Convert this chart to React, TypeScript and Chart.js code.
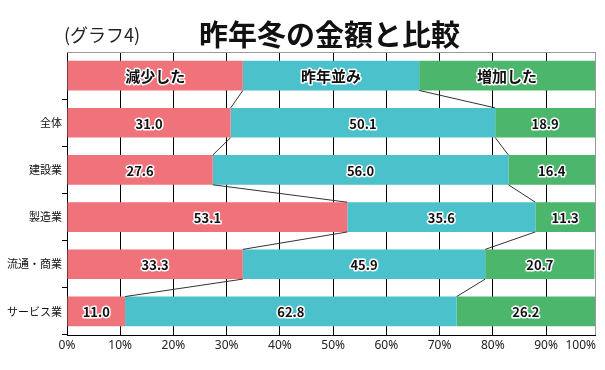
import React, { useEffect, useRef } from 'react';
import { Chart, registerables } from 'chart.js';

Chart.register(...registerables);

// ---- data ----
const CATEGORIES = ['', '全体', '建設業', '製造業', '流通・商業', 'サービス業'];
const SERIES_NAMES = ['減少した', '昨年並み', '増加した'];
const DECREASED = [33.3, 31.0, 27.6, 53.1, 33.3, 11.0];
const SAME = [33.4, 50.1, 56.0, 35.6, 45.9, 62.8];
const INCREASED = [33.3, 18.9, 16.4, 11.3, 20.7, 26.2];
const TICK_LABELS = ['0%', '10%', '20%', '30%', '40%', '50%', '60%', '70%', '80%', '90%', '100%'];
// gridlines in the source picture are spaced slightly wider than the bar scale
const GRID_STEP = 10.08;

const TITLE_PREFIX = '(グラフ4)';
const TITLE_MAIN = '昨年冬の金額と比較';

const COLORS = ['#F0727A', '#4AC1CB', '#4BB66C'];
const FONT = '"Noto Sans CJK JP", "Noto Sans", sans-serif';

const drawPlugin = {
  id: 'customDraw',
  beforeDraw(chart: any) {
    const ctx = chart.ctx;
    ctx.save();
    ctx.fillStyle = '#ffffff';
    ctx.fillRect(0, 0, chart.width, chart.height);
    ctx.restore();
  },
  afterDatasetsDraw(chart: any) {
    const ctx = chart.ctx;
    const xs = chart.scales.x;
    const metas = [0, 1, 2].map((i) => chart.getDatasetMeta(i));
    const data = chart.data.datasets.map((d: any) => d.data as number[]);
    ctx.save();
    // series lines
    ctx.strokeStyle = '#333';
    ctx.lineWidth = 1;
    for (let r = 0; r < CATEGORIES.length - 1; r++) {
      const b0 = metas[0].data[r].getProps(['y', 'height'], true);
      const b1 = metas[0].data[r + 1].getProps(['y', 'height'], true);
      for (let k = 1; k <= 2; k++) {
        let c0 = 0;
        let c1 = 0;
        for (let j = 0; j < k; j++) {
          c0 += data[j][r];
          c1 += data[j][r + 1];
        }
        ctx.beginPath();
        ctx.moveTo(xs.getPixelForValue(c0), b0.y + b0.height / 2);
        ctx.lineTo(xs.getPixelForValue(c1), b1.y - b1.height / 2);
        ctx.stroke();
      }
    }
    // labels
    ctx.textBaseline = 'middle';
    ctx.textAlign = 'center';
    ctx.lineJoin = 'round';
    metas.forEach((meta: any, di: number) => {
      meta.data.forEach((el: any, r: number) => {
        const p = el.getProps(['x', 'y', 'base'], true);
        const cx = (p.x + p.base) / 2;
        let text: string;
        if (r === 0) {
          text = SERIES_NAMES[di];
          ctx.font = `bold 15px ${FONT}`;
        } else {
          text = data[di][r].toFixed(1);
          ctx.font = `bold 13px ${FONT}`;
        }
        ctx.lineWidth = 3;
        ctx.strokeStyle = '#ffffff';
        ctx.strokeText(text, cx, p.y + 1);
        ctx.fillStyle = '#111';
        ctx.fillText(text, cx, p.y + 1);
      });
    });
    ctx.restore();
  },
  afterDraw(chart: any) {
    const ctx = chart.ctx;
    const area = chart.chartArea;
    const xs = chart.scales.x;
    ctx.save();
    // top border
    ctx.strokeStyle = '#999';
    ctx.lineWidth = 1;
    ctx.beginPath();
    ctx.moveTo(area.left, Math.round(area.top) + 0.5);
    ctx.lineTo(area.right, Math.round(area.top) + 0.5);
    ctx.stroke();
    // titles
    ctx.textBaseline = 'middle';
    ctx.textAlign = 'left';
    ctx.fillStyle = '#222';
    ctx.font = `18px ${FONT}`;
    ctx.fillText(TITLE_PREFIX, 64, 35);
    ctx.fillStyle = '#111';
    ctx.font = `bold 29px ${FONT}`;
    ctx.fillText(TITLE_MAIN, 199, 35);
    // x tick labels
    ctx.font = `12px "Noto Sans", sans-serif`;
    ctx.fillStyle = '#222';
    const last = xs.ticks.length - 1;
    xs.ticks.forEach((t: any, i: number) => {
      const px = xs.getPixelForValue(t.value);
      if (i === last) {
        ctx.textAlign = 'right';
        ctx.fillText(TICK_LABELS[i], area.right + 1, area.bottom + 11);
      } else {
        ctx.textAlign = 'center';
        ctx.fillText(TICK_LABELS[i], px, area.bottom + 11);
      }
    });
    ctx.restore();
  },
};

export default function App() {
  const ref = useRef<HTMLCanvasElement>(null);
  useEffect(() => {
    if (!ref.current) return;
    const chart = new Chart(ref.current, {
      type: 'bar',
      data: {
        labels: CATEGORIES,
        datasets: [
          { label: SERIES_NAMES[0], data: DECREASED, backgroundColor: COLORS[0] },
          { label: SERIES_NAMES[1], data: SAME, backgroundColor: COLORS[1] },
          { label: SERIES_NAMES[2], data: INCREASED, backgroundColor: COLORS[2] },
        ],
      },
      options: {
        indexAxis: 'y',
        animation: false,
        responsive: false,
        maintainAspectRatio: false,
        devicePixelRatio: 1,
        layout: { padding: { top: 52, right: 10, bottom: 35, left: 0 } },
        datasets: { bar: { barPercentage: 0.63, categoryPercentage: 1 } },
        plugins: {
          legend: { display: false },
          tooltip: { enabled: false },
          title: { display: false },
        },
        scales: {
          x: {
            stacked: true,
            min: 0,
            max: 100,
            afterBuildTicks(scale: any) {
              scale.ticks = TICK_LABELS.map((_, i) => ({
                value: i === TICK_LABELS.length - 1 ? 100 : i * GRID_STEP,
              }));
            },
            afterFit(scale: any) {
              scale.height = 0;
              scale.paddingLeft = 0;
              scale.paddingRight = 0;
            },
            ticks: { display: false },
            grid: {
              color: (c: any) => (c.index === TICK_LABELS.length - 1 ? '#999' : '#000'),
              lineWidth: 1,
              drawTicks: false,
            },
            border: { color: '#000', width: 1 },
          },
          y: {
            stacked: true,
            afterFit(scale: any) {
              scale.width = 67;
            },
            ticks: {
              font: { family: FONT, size: 11 },
              color: '#111',
              padding: 0,
            },
            grid: {
              drawOnChartArea: false,
              drawTicks: true,
              tickLength: 5,
              color: (c: any) =>
                c.index === 0 || c.index >= CATEGORIES.length ? 'rgba(0,0,0,0)' : '#000',
            },
            border: { color: '#000', width: 1 },
          },
        },
      } as any,
      plugins: [drawPlugin],
    });
    return () => chart.destroy();
  }, []);
  return (
    <div style={{ position: 'absolute', left: 0, top: 0, width: 605, height: 370 }}>
      <canvas ref={ref} width={605} height={370} style={{ width: 605, height: 370 }} />
    </div>
  );
}
